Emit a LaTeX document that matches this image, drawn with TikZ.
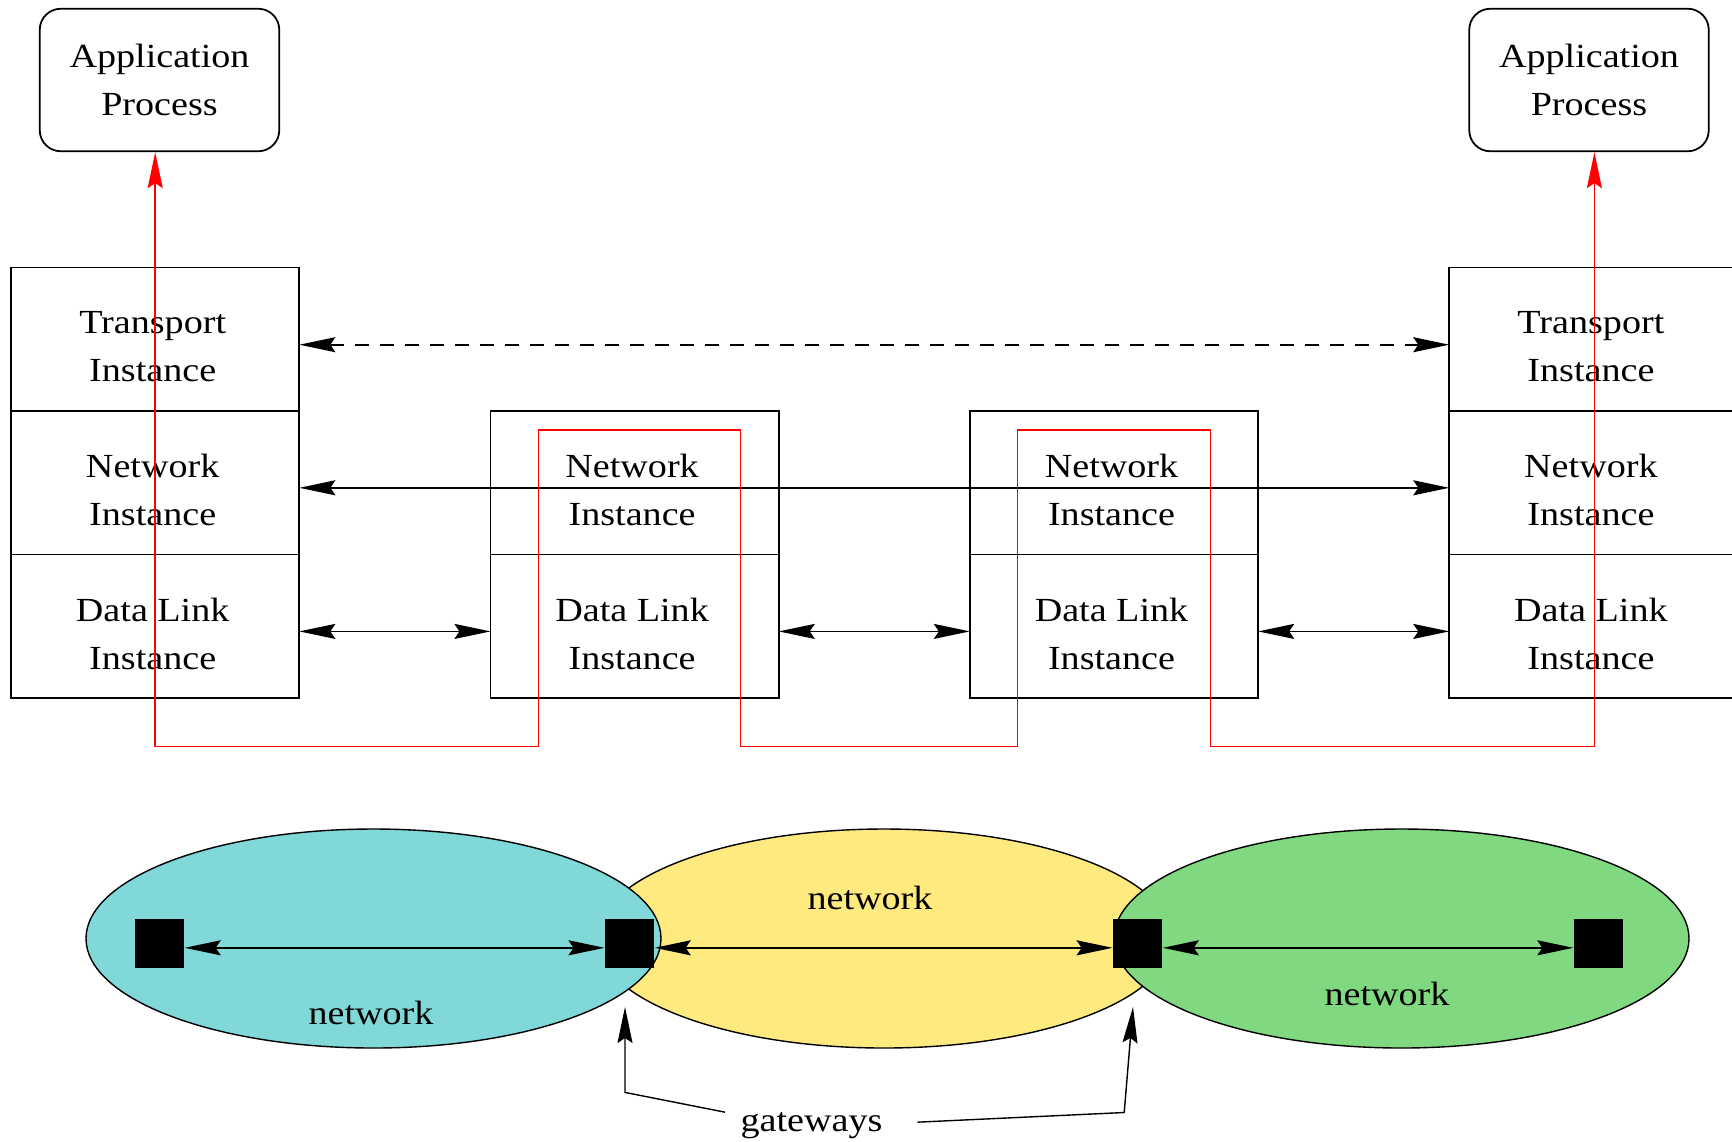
\documentclass[tikz,border=0pt]{standalone}
\usepackage{fontspec}
\setmainfont{Liberation Serif}[FakeStretch=1.13]
\usepackage{xcolor}
\usepackage{tikz}
\usetikzlibrary{shapes,arrows.meta}
\usetikzlibrary{positioning}
\definecolor{netcyan}{RGB}{128,216,216}
\definecolor{netyellow}{RGB}{255,234,128}
\definecolor{netgreen}{RGB}{128,216,128}
\tikzstyle{process} = [rectangle, draw, line width=1pt, rounded corners=0.42cm,
    minimum width=4.79cm, minimum height=2.85cm, align=center]
\tikzset{layer/.style={rectangle, draw, line width=1pt, outer sep=0pt,
    minimum width=5.766cm, minimum height=2.872cm,
    label={[align=center, xshift=-0.05cm, yshift=-0.15cm]center:#1}}}
\tikzstyle{net} = [ellipse, draw, line width=0.8pt,
    minimum width=11.5cm, minimum height=4.38cm]
\tikzstyle{router} = [rectangle, fill=black, inner sep=0pt, minimum size=0.99cm]
\tikzstyle{link} = [draw, line width=1pt, <->]
\tikzstyle{peer} = [link, dash pattern=on 0.28cm off 0.22cm]
\tikzstyle{route} = [draw=red, line width=0.8pt, <->]
\tikzstyle{pointer} = [draw, line width=0.8pt, ->]

\begin{document}
\begin{tikzpicture}[node distance=2.872cm, auto,
    font=\fontsize{19.2}{27.3}\selectfont,
    >={Stealth[length=0.72cm, width=0.3cm, inset=0.1cm]}]
  \useasboundingbox (0,0) rectangle (34.64,-22.82);
  % Place nodes
  \node [process] (appl) at (3.19,-1.6) {Application\\Process};
  \node [process] (appr) at (31.78,-1.6) {Application\\Process};
  \node [layer={Transport\\Instance}] (tl) at (3.104,-6.784) {};
  \node [layer={Network\\Instance}, below of=tl] (nl) {};
  \node [layer={Data Link\\Instance}, below of=nl] (dl) {};
  \node [layer={Network\\Instance}, right of=nl, node distance=9.588cm] (nm1) {};
  \node [layer={Data Link\\Instance}, below of=nm1] (dm1) {};
  \node [layer={Network\\Instance}, right of=nm1, node distance=9.588cm] (nm2) {};
  \node [layer={Data Link\\Instance}, below of=nm2] (dm2) {};
  \node [layer={Network\\Instance}, right of=nm2, node distance=9.588cm] (nr) {};
  \node [layer={Transport\\Instance}, above of=nr] (tr) {};
  \node [layer={Data Link\\Instance}, below of=nr] (dr) {};
  % Networks
  \node [net, fill=netyellow] (midnet) at (17.68,-18.77) {};
  \node [net, fill=netcyan] (leftnet) at (7.47,-18.77) {};
  \node [net, fill=netgreen] (rightnet) at (28.03,-18.77) {};
  \node [router] (h1) at (3.192,-18.866) {};
  \node [router] (g1) at (12.592,-18.866) {};
  \node [router] (g2) at (22.754,-18.866) {};
  \node [router] (h2) at (31.968,-18.866) {};
  \node [anchor=base] at (7.42,-20.49) {network};
  \node [anchor=base] at (17.4,-18.18) {network};
  \node [anchor=base] at (27.74,-20.11) {network};
  \node [anchor=base] (gw) at (16.23,-22.62) {gateways};
  \coordinate (gwl) at (12.5,-20.14);
  \coordinate (gwr) at (22.66,-20.14);
  % Draw edges
  \path [peer] ([yshift=-0.11cm]tl.east) -- ([yshift=-0.11cm]tr.west);
  \path [link] ([yshift=-0.1cm]nl.east) -- ([yshift=-0.1cm]nr.west);
  \path [link] ([yshift=-0.1cm]dl.east) -- ([yshift=-0.1cm]dm1.west);
  \path [link] ([yshift=-0.1cm]dm1.east) -- ([yshift=-0.1cm]dm2.west);
  \path [link] ([yshift=-0.1cm]dm2.east) -- ([yshift=-0.1cm]dr.west);
  \path [link] ([yshift=-0.09cm]h1.east) -- ([yshift=-0.09cm]g1.west);
  \path [link] ([yshift=-0.09cm]g1.east) -- ([yshift=-0.09cm]g2.west);
  \path [link] ([yshift=-0.09cm]g2.east) -- ([yshift=-0.09cm]h2.west);
  % Packet route
  \coordinate (low) at (0,-14.934);
  \coordinate (high) at (0,-8.6);
  \path [route] (tl.center |- appl.south) -- (tl.center |- low)
    -| ([xshift=-1.918cm]nm1.center |- high)
    -| ([xshift=2.114cm]nm1.center |- low)
    -| ([xshift=-1.934cm]nm2.center |- high)
    -| ([xshift=1.932cm]nm2.center |- low)
    -| ([xshift=0.02cm]tr.center |- appr.south);
  % Gateway pointers
  \path [pointer] ([xshift=-0.19cm, yshift=0.26cm]gw.west) -- (12.5,-21.848) -- (gwl);
  \path [pointer] ([xshift=0.58cm, yshift=0.06cm]gw.east) -- (22.484,-22.25) -- (gwr);
\end{tikzpicture}
\end{document}
